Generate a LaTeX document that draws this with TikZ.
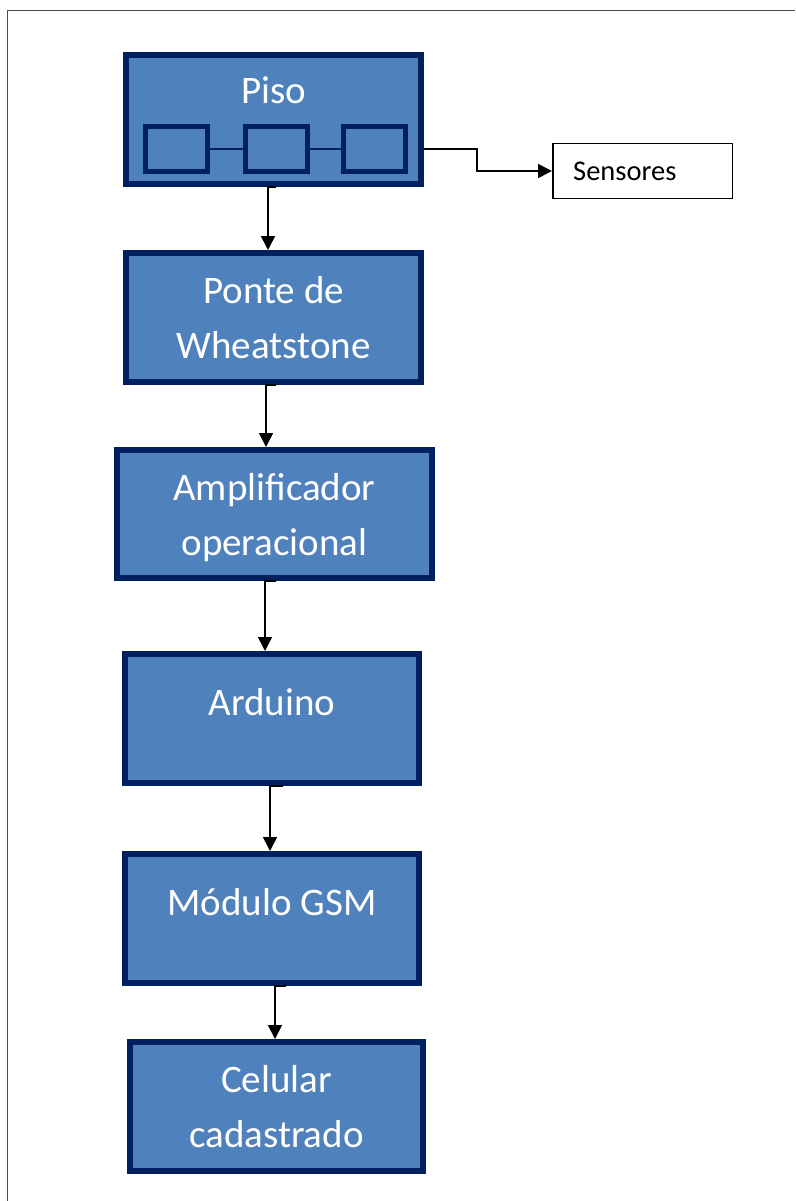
\documentclass[tikz,border=0pt]{standalone}
\usepackage{fontspec}
\setmainfont{Carlito}
\usetikzlibrary{arrows.meta}
\definecolor{boxfill}{HTML}{4F81BD}
\definecolor{boxline}{RGB}{0,32,96}
\tikzset{
  bigbox/.style={draw=boxline, fill=boxfill, line width=6pt, inner sep=0pt, minimum width=295pt, minimum height=129pt},
  smallbox/.style={draw=boxline, fill=boxfill, line width=5pt, inner sep=0pt, minimum width=62pt, minimum height=45pt},
  wtxt/.style={text=white, font=\fontsize{39}{47}\selectfont, inner sep=0pt, anchor=base},
  arr/.style={draw=black, line width=1.6pt, -{Triangle[length=14pt,width=14pt]}},
}
\begin{document}
\begin{tikzpicture}[x=1pt,y=-1pt]
\useasboundingbox (0,0) rectangle (795,1201);
% frame
\draw[line width=1.8pt, black!70] (7.5,1201) -- (7.5,10.5) -- (795,10.5);

% boxes
\node[bigbox] (piso) at (273.5,119.5) {};
\node[bigbox] (wheat) at (273.5,317.5) {};
\node[bigbox, minimum width=315pt, minimum height=128pt] (amp) at (274.5,514) {};
\node[bigbox, minimum width=294pt] (ard) at (272,718.5) {};
\node[bigbox, minimum width=294pt] (gsm) at (272,918.5) {};
\node[bigbox, minimum width=293pt] (cel) at (276.5,1106.5) {};
\node[draw=black, line width=1.5pt, fill=white, minimum width=179.5pt, minimum height=54.5pt, inner sep=0pt] (sens) at (642.5,171) {};

% small boxes inside Piso
\node[smallbox] (s1) at (176.5,149) {};
\node[smallbox] (s2) at (276.5,149) {};
\node[smallbox] (s3) at (374.5,149) {};
\draw[boxline, line width=2pt] (s1) -- (s2);
\draw[boxline, line width=2pt] (s2) -- (s3);

% texts
\node[wtxt] (pisoT) at (273.5,104) {Piso};
\node[wtxt] (wheatA) at (273.5,303) {Ponte de};
\node[wtxt] (wheatB) at (273.5,358) {Wheatstone};
\node[wtxt] (ampA) at (274.5,500) {Amplificador};
\node[wtxt] (ampB) at (274.5,555) {operacional};
\node[wtxt] (ardT) at (272,715) {Arduino};
\node[wtxt] (gsmT) at (272,915) {Módulo GSM};
\node[wtxt] (celA) at (276.5,1092) {Celular};
\node[wtxt] (celB) at (276.5,1147) {cadastrado};
\node[text=black, font=\fontsize{28.5}{34}\selectfont, inner sep=0pt, anchor=base west] (sensT) at (573,181) {Sensores};

% connectors
\draw[arr] (piso.east |- s2.center) -- (477,149) |- (sens.west);
\draw[arr] (piso.south -| 276,0) -- (piso.south -| 268,0) -- (wheat.north -| 268,0);
\draw[arr] (wheat.south -| 276,0) -- (wheat.south -| 266,0) -- (amp.north -| 266,0);
\draw[arr] (amp.south -| 276,0) -- (amp.south -| 265,0) -- (ard.north -| 265,0);
\draw[arr] (ard.south -| 283,0) -- (ard.south -| 270,0) -- (gsm.north -| 270,0);
\draw[arr] (gsm.south -| 286,0) -- (gsm.south -| 275,0) -- (cel.north -| 275,0);
\end{tikzpicture}
\end{document}
